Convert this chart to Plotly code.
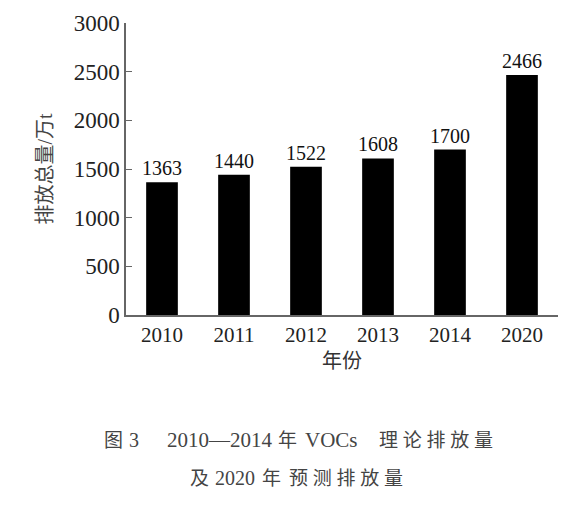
import plotly.graph_objects as go

years = ["2010", "2011", "2012", "2013", "2014", "2020"]
emissions = [1363, 1440, 1522, 1608, 1700, 2466]
y_ticks = [0, 500, 1000, 1500, 2000, 2500, 3000]

serif = "Liberation Serif, Times New Roman, serif"
cjk = "Liberation Serif, Noto Sans CJK SC, serif"

fig = go.Figure(go.Bar(
    x=years, y=emissions,
    marker=dict(color="#000000", line=dict(width=0)),
    width=0.44,
    text=[str(v) for v in emissions],
    textposition="outside",
    constraintext="none",
    textfont=dict(family=serif, size=20, color="#111111"),
    cliponaxis=False,
))

L, R, T, B = 126, 558, 23, 315
fig.update_layout(
    width=580, height=506,
    margin=dict(l=L, r=580 - R, t=T, b=506 - B),
    paper_bgcolor="white", plot_bgcolor="white",
    showlegend=False,
    xaxis=dict(
        type="category", range=[-0.5, 5.5], automargin=False,
        showline=True, linecolor="#666666", linewidth=1.5,
        ticks="", showgrid=False, zeroline=False,
        tickfont=dict(family=serif, size=21, color="#222222"),
        title=dict(text="年份", font=dict(family=cjk, size=20, color="#333333"), standoff=8),
    ),
    yaxis=dict(
        range=[0, 3000], tickvals=y_ticks, automargin=False,
        showline=True, linecolor="#666666", linewidth=1.5,
        ticks="inside", ticklen=6, tickcolor="#666666", tickwidth=1.2,
        showgrid=False, zeroline=False,
        tickfont=dict(family=serif, size=23, color="#222222"),
        title=dict(text="排放总量/万t", font=dict(family=cjk, size=20, color="#444444"), standoff=16),
    ),
)

# caption pieces: (text, anchor x px, centre y px, anchor side, font size)
caption = [
    ("图", 102, 440, "left", 19),
    ("3", 127, 440, "left", 20),
    ("2010—2014", 165, 440, "left", 21),
    ("年", 276, 440, "left", 19),
    ("VOCs", 303, 440, "left", 21),
    ("\u00a0".join("理论排放量"), 495, 440, "right", 19),
    ("及", 188, 478, "left", 19),
    ("2020", 213, 478, "left", 20),
    ("年", 260, 478, "left", 19),
    ("\u00a0".join("预测排放量"), 405, 478, "right", 19),
]
plot_h = B - T
for txt, xpx, ypx, side, fs in caption:
    fig.add_annotation(
        text=txt, xref="paper", yref="paper",
        x=(xpx - L) / (R - L), y=(B - ypx) / plot_h,
        xanchor=side, yanchor="middle", align=side, showarrow=False,
        font=dict(family=cjk, size=fs, color="#444444"),
    )

fig.write_html("out.html", config={"displayModeBar": False},
               post_script="document.body.style.margin='0px';")
